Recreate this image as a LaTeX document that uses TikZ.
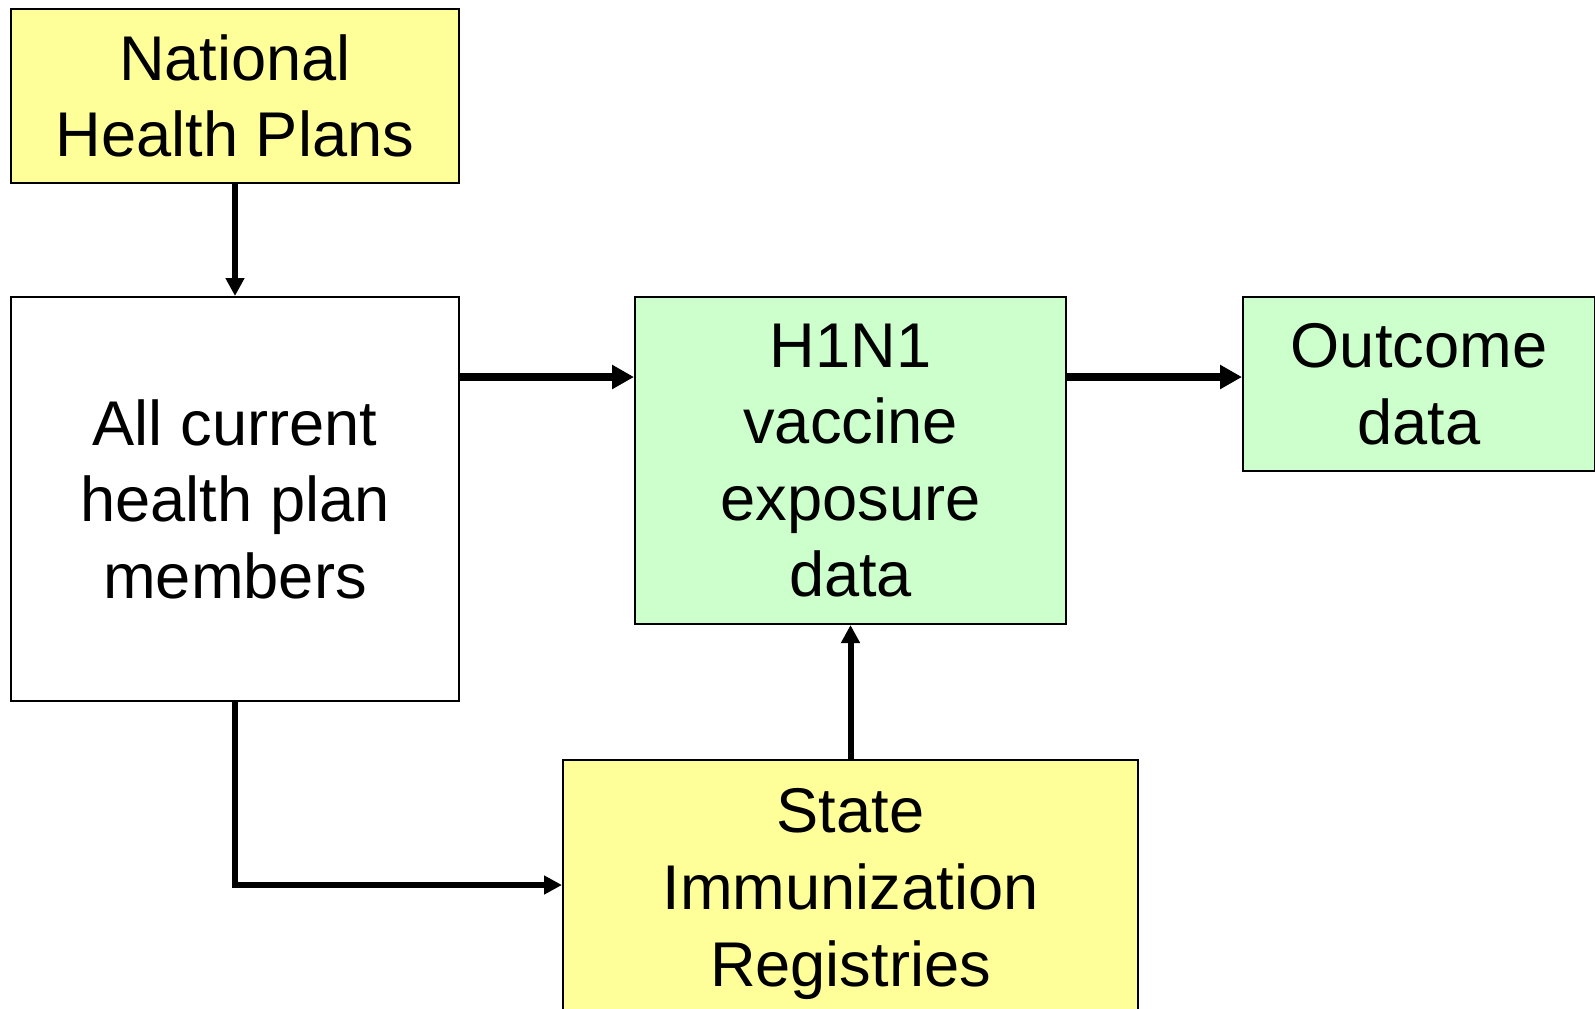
\documentclass[tikz,border=0pt]{standalone}
\usepackage{fontspec}
\setmainfont{Liberation Sans}
\usetikzlibrary{arrows.meta,calc}
\definecolor{padyellow}{HTML}{FFFF99}
\definecolor{padgreen}{HTML}{CCFFCC}
\tikzset{
  box/.style={draw=black, line width=1pt, rectangle, align=center, inner sep=2pt,
    font=\fontsize{31.6}{38.3}\selectfont},
  source/.style={box, fill=padyellow},
  result/.style={box, fill=padgreen},
  thinflow/.style={-{Triangle[length=9pt,width=9pt]}, line width=3pt},
  fatflow/.style={-{Triangle[length=11pt,width=11.5pt]}, line width=4pt}
}

\begin{document}
\begin{tikzpicture}[x=0.5pt,y=-0.5pt]
  \path[use as bounding box, clip] (0,0) rectangle (1595,1008);

  \node[source, minimum width=224pt, minimum height=87pt] (nat) at (235,96) {National\\Health Plans};
  \node[box, minimum width=224pt, minimum height=202pt] (all) at (235,499) {All current\\health plan\\members};
  \node[result, minimum width=215.5pt, minimum height=163.5pt] (h1n1) at (850.5,460.5) {H1N1\\vaccine\\exposure\\data};
  \node[result, minimum width=176pt, minimum height=87pt] (outcome) at (1419,384) {Outcome\\data};
  \node[source, minimum width=287.5pt, minimum height=134pt] (state) at (850.5,894) {State\\Immunization\\Registries};

  \draw[thinflow] (nat.south) -- (all.north);
  \draw[fatflow] ($(all.north east)+(0,81)$) -- ($(h1n1.north west)+(0,81)$);
  \draw[fatflow] ($(h1n1.north east)+(0,81)$) -- ($(outcome.north west)+(0,81)$);
  \draw[thinflow] (state.north) -- (h1n1.south);
  \draw[thinflow] (all.south) |- ($(state.north west)+(0,126)$);
\end{tikzpicture}
\end{document}
